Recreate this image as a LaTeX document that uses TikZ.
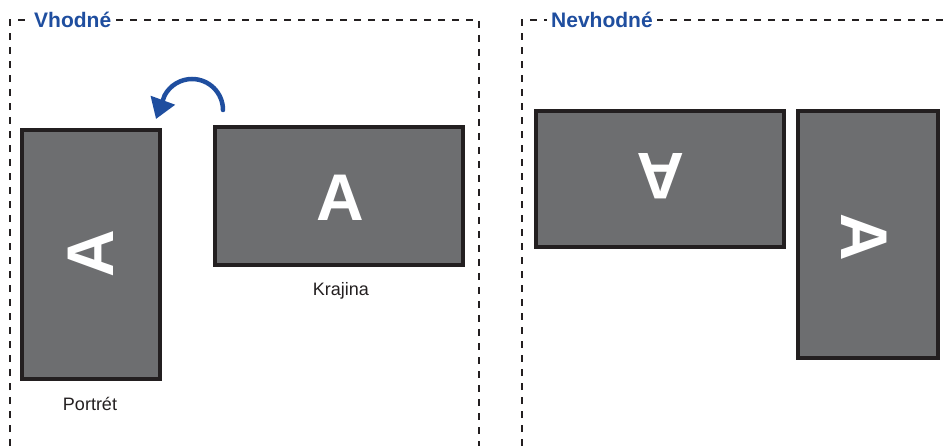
\documentclass[tikz,border=0pt]{standalone}
\usepackage{fontspec}
\setmainfont{Liberation Sans}
\usetikzlibrary{arrows.meta}
\definecolor{scr}{HTML}{6D6E70}
\definecolor{frm}{HTML}{231F20}
\definecolor{ttl}{HTML}{1F4E9F}
\begin{document}
\begin{tikzpicture}[x=1pt,y=-1pt,
  screen/.style={draw=frm,line width=4pt,fill=scr},
  panel/.style={draw=frm,line width=1.8pt,dash pattern=on 7pt off 7pt},
  title/.style={text=ttl,font=\bfseries\fontsize{21}{24}\selectfont,fill=white,inner sep=4pt,anchor=west},
  lbl/.style={font=\fontsize{18}{21}\selectfont,text=frm},
  glyph/.style={text=white,font=\bfseries\fontsize{66}{70}\selectfont,inner sep=0pt}]
\useasboundingbox (0,0) rectangle (948,446);
% panels
\draw[panel] (10,460) -- (10,20) -- (479,20) -- (479,460);
\draw[panel] (522,460) -- (522,20) -- (960,20);
\node[title] (t1) at (30,20) {Vhodné};
\node[title] (t2) at (547,20) {Nevhodné};
% screens
\path[screen] (22,130) rectangle (160,379);
\node[glyph,rotate=90] (a1) at (91,254) {A};
\path[screen] (215,127) rectangle (463,265);
\node[glyph] (a2) at (340,198) {A};
\path[screen] (536,111) rectangle (784,247);
\node[glyph,rotate=180] (a3) at (661,176) {A};
\path[screen] (798,111) rectangle (938,358);
\node[glyph,rotate=-90] (a4) at (864,237) {A};
% labels
\node[lbl] (k) at (341,291) {Krajina};
\node[lbl] (p) at (90,404) {Portrét};
% arrow
\coordinate (s) at (223,110);
\coordinate (tip) at (156,119);
\draw[ttl,line width=4.5pt,line cap=round,-{Triangle[length=20pt,width=25pt]}] (s) arc[start angle=0,end angle=-152,radius=31] -- (tip);
\end{tikzpicture}
\end{document}
